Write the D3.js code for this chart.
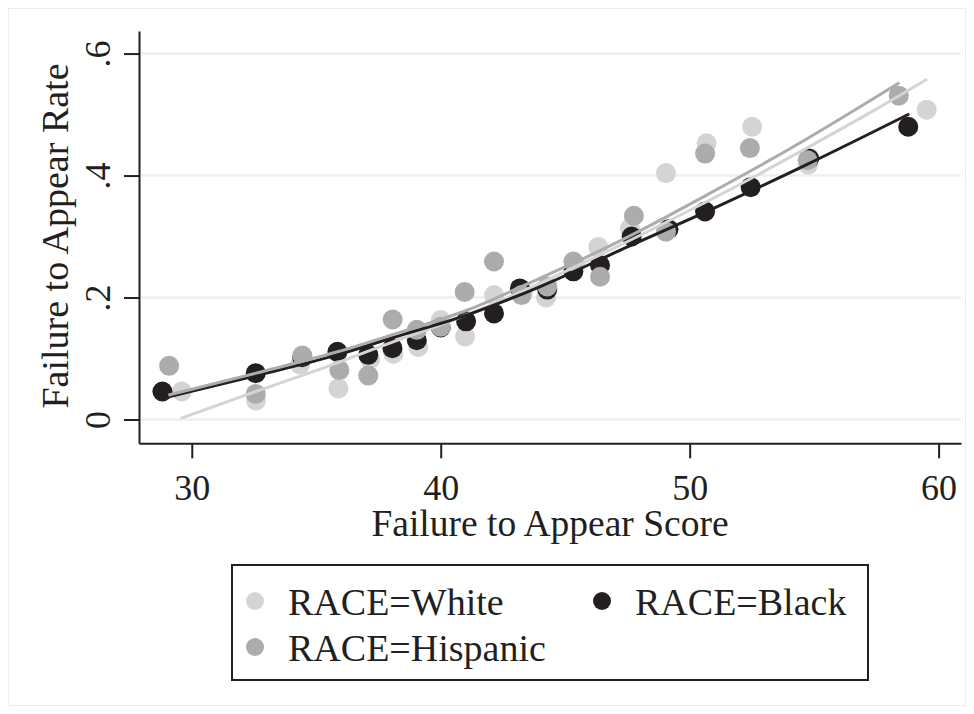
<!DOCTYPE html>
<html>
<head>
<meta charset="utf-8">
<script src="https://cdn.jsdelivr.net/npm/d3@7"></script>
<style>
  body { margin: 0; background: #fff; }
  svg { display: block; }
</style>
</head>
<body>
<figure id="chart" style="margin:0"></figure>
<script>
// scatter bins: score, observed failure-to-appear rate
const whiteScore = [29.6, 32.58, 34.35, 35.89, 37.16, 38.1, 39.1, 40.0, 40.98, 42.14, 43.3, 44.23, 45.4, 46.33, 47.6, 49.05, 50.68, 52.51, 54.76, 59.52];
const whiteRate  = [0.046, 0.031, 0.090, 0.051, 0.099, 0.108, 0.119, 0.163, 0.136, 0.204, 0.210, 0.200, 0.255, 0.283, 0.313, 0.404, 0.453, 0.480, 0.418, 0.508];

const blackScore = [28.82, 32.57, 34.44, 35.85, 37.09, 38.06, 39.04, 40.0, 41.02, 42.14, 43.18, 44.28, 45.33, 46.4, 47.67, 49.15, 50.62, 52.45, 54.8, 58.78];
const blackRate  = [0.046, 0.076, 0.102, 0.111, 0.106, 0.117, 0.130, 0.151, 0.161, 0.174, 0.215, 0.213, 0.243, 0.253, 0.300, 0.312, 0.341, 0.381, 0.428, 0.480];

const hispScore  = [29.09, 32.57, 34.44, 35.93, 37.09, 38.07, 39.04, 40.0, 40.96, 42.14, 43.25, 44.28, 45.33, 46.4, 47.76, 49.05, 50.62, 52.42, 54.74, 58.4];
const hispRate   = [0.088, 0.042, 0.105, 0.081, 0.072, 0.164, 0.147, 0.152, 0.209, 0.259, 0.204, 0.218, 0.259, 0.234, 0.334, 0.308, 0.436, 0.445, 0.425, 0.531];

// fitted curves
const whiteFitScore = [29.56, 32.58, 35.85, 38.06, 40.5, 43, 46, 48.5, 50.68, 52.82, 54.7, 57.37, 59.54];
const whiteFitRate  = [0.002, 0.046, 0.093, 0.127, 0.163, 0.205, 0.262, 0.312, 0.357, 0.403, 0.445, 0.506, 0.558];
const blackFitScore = [29.06, 32.58, 35.85, 38.06, 41.1, 44, 47.5, 50.68, 54.7, 58.82];
const blackFitRate  = [0.037, 0.072, 0.106, 0.134, 0.172, 0.218, 0.283, 0.341, 0.418, 0.501];
const hispFitScore  = [29.06, 32.58, 35.85, 38.06, 41.1, 44, 46, 48.5, 50.68, 52.82, 54.7, 58.42];
const hispFitRate   = [0.040, 0.076, 0.111, 0.139, 0.180, 0.232, 0.269, 0.320, 0.368, 0.416, 0.460, 0.552];

const xTicks = [30, 40, 50, 60];
const yTicks = [0, 0.2, 0.4, 0.6];

const width = 974;
const height = 714;
const font = '"Liberation Serif", "DejaVu Serif", serif';
const ink = '#231f20';
const gridColor = '#eaf0f2';

// order matters: first series is drawn underneath
const series = [
  { name: 'RACE=White', color: '#d4d4d6', score: whiteScore, rate: whiteRate, fitScore: whiteFitScore, fitRate: whiteFitRate },
  { name: 'RACE=Black', color: ink, score: blackScore, rate: blackRate, fitScore: blackFitScore, fitRate: blackFitRate },
  { name: 'RACE=Hispanic', color: '#acacae', score: hispScore, rate: hispRate, fitScore: hispFitScore, fitRate: hispFitRate }
];

const svg = d3.select('figure#chart')
  .append('svg')
  .attr('width', width)
  .attr('height', height)
  .attr('font-family', font);

svg.append('rect')
  .attr('x', 8.5).attr('y', 8.5)
  .attr('width', width - 17).attr('height', height - 17)
  .attr('fill', 'none')
  .attr('stroke', '#eceeee');

const x = d3.scaleLinear().domain([27.88, 60.9]).range([139, 961]);
const y = d3.scaleLinear().domain([-0.039, 0.637]).range([443.3, 31]);

// grid
svg.append('g')
  .selectAll('line')
  .data(yTicks)
  .join('line')
  .attr('x1', x.range()[0])
  .attr('x2', x.range()[1])
  .attr('y1', d => y(d))
  .attr('y2', d => y(d))
  .attr('stroke', gridColor)
  .attr('stroke-width', 2.5);

// x axis
const xAxis = svg.append('g')
  .attr('transform', `translate(0,${y.range()[0]})`)
  .call(d3.axisBottom(x).tickValues(xTicks).tickSize(15).tickSizeOuter(0));
xAxis.select('.domain').attr('stroke', ink).attr('stroke-width', 2);
xAxis.selectAll('.tick line').attr('stroke', ink).attr('stroke-width', 2);
xAxis.selectAll('.tick text')
  .attr('font-family', font)
  .attr('font-size', 36)
  .attr('fill', ink)
  .attr('dy', null)
  .attr('y', 57);

// y axis
const yAxis = svg.append('g')
  .attr('transform', `translate(${x.range()[0]},0)`)
  .call(d3.axisLeft(y).tickValues(yTicks).tickSize(15).tickSizeOuter(0)
    .tickFormat(d => d === 0 ? '0' : d3.format('.1f')(d).replace(/^0/, '')));
yAxis.select('.domain').attr('stroke', ink).attr('stroke-width', 2);
yAxis.selectAll('.tick line').attr('stroke', ink).attr('stroke-width', 2);
yAxis.selectAll('.tick text')
  .attr('font-family', font)
  .attr('font-size', 36)
  .attr('fill', ink)
  .attr('text-anchor', 'middle')
  .attr('dy', null)
  .attr('x', 0)
  .attr('y', -29)
  .attr('transform', 'rotate(-90)');

// axis titles
svg.append('text')
  .attr('x', 550)
  .attr('y', 536)
  .attr('text-anchor', 'middle')
  .attr('font-size', 37.5)
  .attr('fill', ink)
  .text('Failure to Appear Score');

svg.append('text')
  .attr('transform', `translate(68,236) rotate(-90)`)
  .attr('text-anchor', 'middle')
  .attr('font-size', 38)
  .attr('fill', ink)
  .text('Failure to Appear Rate');

// scatter points
series.forEach(s => {
  svg.append('g')
    .selectAll('circle')
    .data(s.score.map((v, i) => ({ score: v, rate: s.rate[i] })))
    .join('circle')
    .attr('cx', d => x(d.score))
    .attr('cy', d => y(d.rate))
    .attr('r', 10)
    .attr('fill', s.color);
});

// fitted lines
const line = d3.line()
  .x(d => x(d.score))
  .y(d => y(d.rate))
  .curve(d3.curveMonotoneX);

series.forEach(s => {
  svg.append('path')
    .datum(s.fitScore.map((v, i) => ({ score: v, rate: s.fitRate[i] })))
    .attr('fill', 'none')
    .attr('stroke', s.color)
    .attr('stroke-width', 3)
    .attr('d', line);
});

// legend
const legend = svg.append('g');
legend.append('rect')
  .attr('x', 232).attr('y', 565)
  .attr('width', 636).attr('height', 115)
  .attr('fill', '#fff')
  .attr('stroke', ink)
  .attr('stroke-width', 2);

const legendPos = [
  { cx: 255, cy: 601 },
  { cx: 602, cy: 601 },
  { cx: 255, cy: 647 }
];

series.forEach((s, i) => {
  const p = legendPos[i];
  legend.append('circle')
    .attr('cx', p.cx).attr('cy', p.cy)
    .attr('r', 9)
    .attr('fill', s.color);
  legend.append('text')
    .attr('x', p.cx + 33)
    .attr('y', p.cy + 14)
    .attr('font-size', 38)
    .attr('fill', ink)
    .text(s.name);
});
</script>
</body>
</html>
